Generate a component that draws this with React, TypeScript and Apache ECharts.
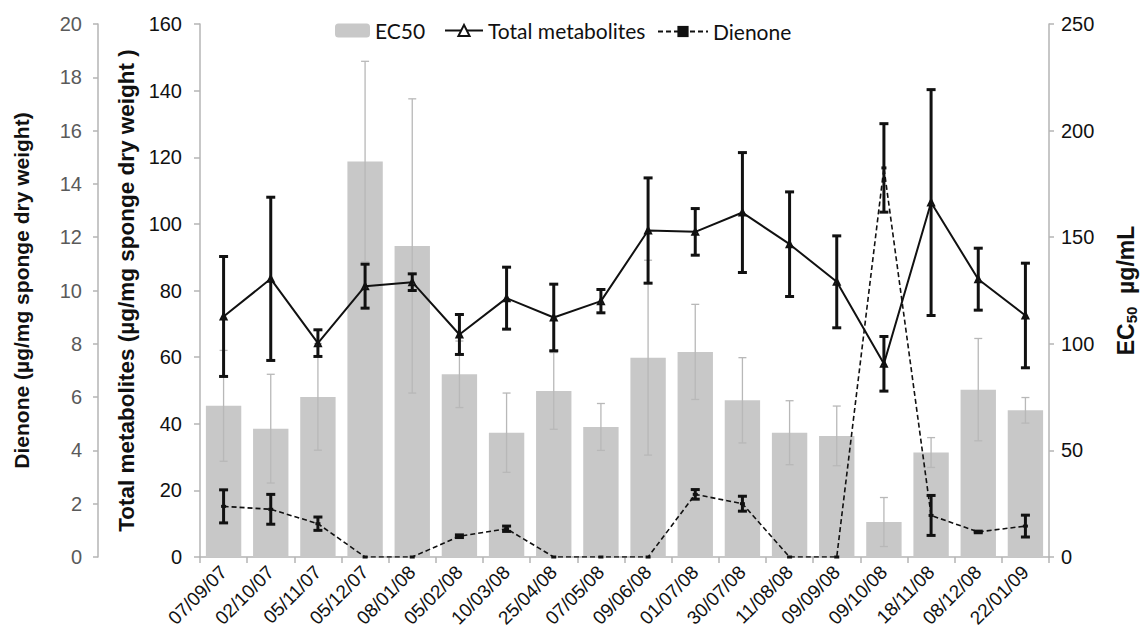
import React, { useEffect, useRef } from "react";
import * as echarts from "echarts";

const dates = ["07/09/07","02/10/07","05/11/07","05/12/07","08/01/08","05/02/08","10/03/08","25/04/08","07/05/08","09/06/08","01/07/08","30/07/08","11/08/08","09/09/08","09/10/08","18/11/08","08/12/08","22/01/09"];
const ec50 = [70.9, 60.2, 75.1, 185.5, 145.9, 85.7, 58.3, 77.9, 61, 93.5, 96.2, 73.5, 58.3, 56.8, 16.4, 49, 78.5, 68.8];
const ec50Err = [26, 25.5, 25, 47, 69, 15.6, 18.6, 18, 11, 45.7, 22.3, 20, 15, 14, 11.5, 7, 24, 6];
const totalMet = [72.2, 83.5, 64.2, 81.3, 82.5, 66.8, 77.7, 71.9, 76.8, 98, 97.6, 103.4, 93.9, 82.6, 58, 106.4, 83.4, 72.5];
const totalMetErr = [18, 24.5, 4, 6.6, 2.5, 6, 9.3, 10, 3.5, 15.8, 7, 18, 15.7, 13.8, 8.2, 33.9, 9.3, 15.7];
const dienone = [1.9, 1.79, 1.25, 0, 0, 0.78, 1.06, 0, 0, 0, 2.35, 2.0, 0, 0, 14.6, 1.56, 0.94, 1.16];
const dienoneErr = [0.62, 0.56, 0.25, 0, 0, 0.05, 0.1, 0, 0, 0, 0.18, 0.28, 0, 0, 1.66, 0.75, 0.03, 0.41];

const ARIAL = "'Liberation Sans', Arial, sans-serif";

function errData(vals: number[], errs: number[]) {
  return vals.map((v, i) => [i, v - errs[i], v + errs[i]]);
}

function errRender(color: string, lw: number, cap: number) {
  return (params: any, api: any) => {
    const i = api.value(0);
    const lo = api.value(1);
    const hi = api.value(2);
    if (hi - lo <= 0) return { type: "group", children: [] };
    const p1 = api.coord([i, hi]);
    const p2 = api.coord([i, lo]);
    const st = { stroke: color, lineWidth: lw };
    return {
      type: "group",
      children: [
        { type: "line", shape: { x1: p1[0], y1: p1[1], x2: p2[0], y2: p2[1] }, style: st },
        { type: "line", shape: { x1: p1[0] - cap, y1: p1[1], x2: p1[0] + cap, y2: p1[1] }, style: st },
        { type: "line", shape: { x1: p2[0] - cap, y1: p2[1], x2: p2[0] + cap, y2: p2[1] }, style: st },
      ],
    };
  };
}

export default function App() {
  const ref = useRef<HTMLDivElement>(null);
  useEffect(() => {
    if (!ref.current) return;
    const chart = echarts.init(ref.current, undefined, { renderer: "svg" });
    const axisLineStyle = { color: "#b4b4b4", width: 1.5 };
    const legendText = { fontFamily: "Lato, 'Open Sans', sans-serif", fontSize: 21, color: "#111" };
    chart.setOption({
      animation: false,
      backgroundColor: "#fff",
      grid: { left: 200, right: 85, top: 24, bottom: 83, containLabel: false },
      legend: [
        { data: ["EC50"], left: 335, top: 20, padding: 0, itemWidth: 35, itemHeight: 14, textStyle: legendText },
        { data: ["Total metabolites"], left: 444, top: 20, padding: 0, itemWidth: 38, itemHeight: 14, textStyle: legendText },
        { data: ["Dienone"], left: 657, top: 21, padding: 0, itemWidth: 50, itemHeight: 14, textStyle: legendText },
      ],
      xAxis: {
        type: "category",
        data: dates,
        boundaryGap: true,
        axisLine: { lineStyle: axisLineStyle },
        axisTick: { show: true, length: 6, lineStyle: { color: "#b4b4b4", width: 1.5 } },
        axisLabel: { rotate: 45, interval: 0, fontSize: 19, color: "#111", fontFamily: ARIAL, margin: 12 },
      },
      yAxis: [
        {
          type: "value",
          position: "left",
          offset: 102,
          min: 0,
          max: 20,
          interval: 2,
          axisLine: { show: true, lineStyle: axisLineStyle },
          axisTick: { show: true, length: 5, lineStyle: { color: "#b4b4b4", width: 1.5 } },
          axisLabel: { fontSize: 20, color: "#5a5a5a", fontFamily: ARIAL, margin: 16 },
          splitLine: { show: false },
          name: "Dienone (µg/mg sponge dry weight)",
          nameLocation: "middle",
          nameRotate: 90,
          nameGap: 66,
          nameTextStyle: { fontSize: 21, fontWeight: "bold", color: "#111", fontFamily: ARIAL },
        },
        {
          type: "value",
          position: "left",
          offset: 0,
          min: 0,
          max: 160,
          interval: 20,
          axisLine: { show: true, lineStyle: axisLineStyle },
          axisTick: { show: true, length: 6, lineStyle: { color: "#b4b4b4", width: 1.5 } },
          axisLabel: { fontSize: 20, color: "#111", fontFamily: ARIAL, margin: 18 },
          splitLine: { show: false },
          name: "Total metabolites (µg/mg sponge dry weight )",
          nameLocation: "middle",
          nameRotate: 90,
          nameGap: 58,
          nameTextStyle: { fontSize: 22.5, fontWeight: "bold", color: "#111", fontFamily: ARIAL },
        },
        {
          type: "value",
          position: "right",
          min: 0,
          max: 250,
          interval: 50,
          axisLine: { show: true, lineStyle: axisLineStyle },
          axisTick: { show: true, length: 5, lineStyle: { color: "#b4b4b4", width: 1.5 } },
          axisLabel: { fontSize: 20, color: "#111", fontFamily: ARIAL, margin: 12 },
          splitLine: { show: false },
          name: "{b|EC}{s|50}{b|  µg/mL}",
          nameLocation: "middle",
          nameRotate: 90,
          nameGap: 64,
          nameTextStyle: {
            rich: {
              b: { fontSize: 23, fontWeight: "bold", color: "#111", fontFamily: ARIAL, lineHeight: 26, verticalAlign: "middle" },
              s: { fontSize: 15, fontWeight: "bold", color: "#111", fontFamily: ARIAL, lineHeight: 26, verticalAlign: "bottom", padding: [11, 0, 0, 0] },
            },
          },
        },
      ],
      series: [
        {
          name: "EC50",
          type: "bar",
          yAxisIndex: 2,
          data: ec50,
          barWidth: "75%",
          itemStyle: { color: "#c8c8c8" },
          z: 1,
        },
        {
          name: "EC50 error",
          type: "custom",
          yAxisIndex: 2,
          data: errData(ec50, ec50Err),
          encode: { x: 0, y: [1, 2] },
          renderItem: errRender("#b8b8b8", 1.3, 4),
          z: 2,
          silent: true,
        },
        {
          name: "Dienone",
          type: "line",
          yAxisIndex: 0,
          data: dienone,
          symbol: "rect",
          symbolSize: [5, 3],
          lineStyle: { color: "#111", width: 1.6, type: [5, 3] },
          itemStyle: { color: "#111" },
          z: 3,
        },
        {
          name: "Total metabolites",
          type: "line",
          yAxisIndex: 1,
          data: totalMet,
          symbol: "emptyTriangle",
          symbolSize: 6,
          lineStyle: { color: "#111", width: 2 },
          itemStyle: { color: "#111", borderColor: "#111", borderWidth: 1 },
          z: 4,
        },
        {
          name: "Total metabolites error",
          type: "custom",
          yAxisIndex: 1,
          data: errData(totalMet, totalMetErr),
          encode: { x: 0, y: [1, 2] },
          renderItem: errRender("#111", 3, 4.5),
          z: 5,
          silent: true,
        },
        {
          name: "Dienone error",
          type: "custom",
          yAxisIndex: 0,
          data: errData(dienone, dienoneErr),
          encode: { x: 0, y: [1, 2] },
          renderItem: errRender("#111", 3, 4.5),
          z: 5,
          silent: true,
        },
      ],
    });
    return () => chart.dispose();
  }, []);
  return (
    <div
      ref={ref}
      style={{ position: "fixed", left: 0, top: 0, width: 1147, height: 640, background: "#fff" }}
    />
  );
}
